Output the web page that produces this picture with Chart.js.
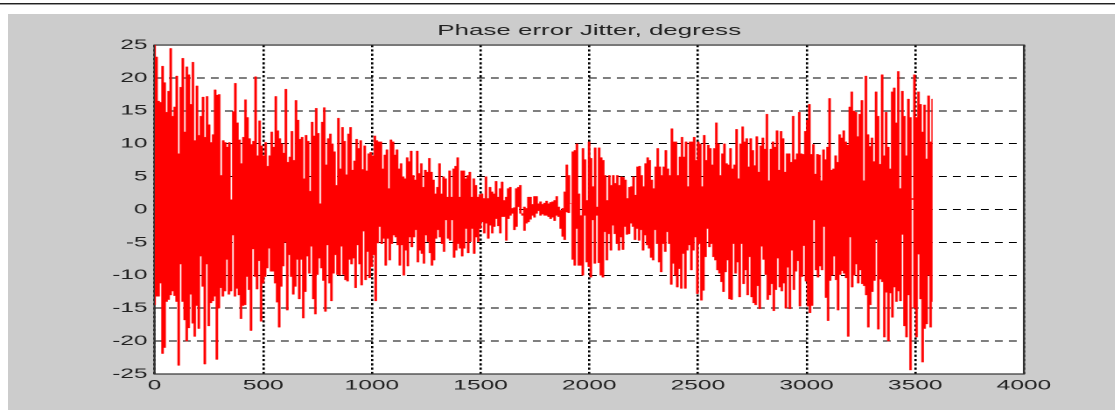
<!DOCTYPE html>
<html>
<head>
<meta charset="utf-8">
<title>Phase error Jitter</title>
<script src="https://cdn.jsdelivr.net/npm/chart.js@4"></script>
<style>
    html, body { margin: 0; padding: 0; background: #fff; overflow: hidden; }
    #rule { position: absolute; left: 0; top: 3px; width: 1115px; height: 1px; background: #222; border-bottom: 1px solid #999; }
    #panel { position: absolute; left: 8px; top: 14px; width: 1107px; height: 396px; background: #cccccc; }
    /* the original figure is a stretched screenshot, so the chart is stretched the same way */
    #wrap { position: absolute; left: 0; top: 0; width: 637px; height: 410px; transform: scaleX(1.75); transform-origin: 0 0; }
</style>
</head>
<body>
<div id="rule"></div>
<div id="panel"></div>
<div id="wrap"><canvas id="jitter" width="637" height="410"></canvas></div>
<script>
const titleText = 'Phase error Jitter, degress';
const lastSample = 3580;
const xTicks = [0, 500, 1000, 1500, 2000, 2500, 3000, 3500, 4000];
const yTicks = [25, 20, 15, 10, 5, 0, -5, -10, -15, -20, -25];

// upper ends of the spikes from left to right
const peaks = [
    25, 23.2, 16.5, 16.3, 21.8, 19.3, 14.8, 18, 24.5, 14.2, 15.6, 20.3, 8.5, 18.6, 23, 11.8, 21.7, 20.5, 16, 22.4,
    10.5, 18.8, 11.3, 14.2, 17.1, 11, 17.2, 12.9, 10.2, 11.4, 18.2, 17.4, 17.5, 5.2, 10.5, 10.2, 9.5, 10.2, 1.5, 14.9,
    19.2, 13.2, 10.6, 7, 11, 16.7, 14, 10.8, 9.9, 10.4, 20.2, 8.2, 13.5, 9.7, 8.2, 10.2, 6.6, 8.2, 11.8, 9.5,
    17.2, 12, 10.8, 10, 8.6, 18.3, 7.2, 8, 11.9, 7.5, 16.6, 13.6, 10.7, 11, 4.7, 11.3, 10.4, 2.8, 13.3, 11.2,
    15.4, 11.6, 0.9, 13.3, 15.5, 6.8, 10.8, 11.5, 10, 8.8, 3.7, 13.9, 6.2, 12.5, 10.4, 5.3, 11.5, 12.5, 6, 7.4,
    10.7, 9.3, 10.5, 6.1, 9.7, 5.9, 8.5, 8.7, 8.2, 11.2, 10.5,
    10.3, 10.3, 6.2, 8.3, 9.1, 3.2, 10.6, 10.3, 8.3, 9.1, 6.2, 7, 5, 4.7, 7.9, 7.3, 8.9, 5.2, 4.5, 8.9,
    5.5, 7, 3.4, 6, 5.7, 7.8, 5.7, 4.5, 2.4, 3.4, 7, 2.4, 5, 4.7, 1.9, 5.9, 1.9, 6.2, 6.6, 7.9,
    1.9, 5.9, 5.9, 4.7, 5.2, 5.7, 1.9, 4.7, 3.7, 1.9, 2.3, 2.4, 1.7, 5, 1.7, 3.4, 2.7, 2.4, 4.3, 1.9,
    3.2, 4.2, 1.4, 1.9, 3.2, 3.4, 0.2, 0.3, 3.2, 3.4, 3.7, -0.6, 0.4, 0.2, 1.9, 1.9, 0.8, 2, 2, 0.9,
    1.2, 0.8, 1, 1.3, 0.9, 1.1, 1.2, 1.4, 2, 0.4, -0.1, 0.2, 2.7, 6.8, 5.2, 0.9, 8.8, 9, 10, 2.4,
    -0.9, 9.3, 7.6, 1.4, 10.3, 7.8, 3.5, 9.4, 0.4, 9.4, 7.9, 7.5, 5.2, 1.4, 5.2, 3.7, 5.2, 4, 5.2, 3.7,
    5, 4.9, 4.5, 1.7, 3.4, 3.5, 5, 2.2, 6.5, 6.6, 5.2, 3.5, 7, 7.9, 7.5, 4.5, 3.2, 6.5, 9.3, 6.5,
    5.2, 6.5, 9, 6.2, 5.2, 12.3, 10.3, 10.3, 5.2, 8, 11, 8, 10.3, 3.5, 10.3, 10.3, 11, 7.5, 10.3, 10,
    3.5, 11.3, 7.5, 9.8, 9.3, 6.8, 9.3, 13.2, 10, 5.2, 8.5, 10, 7, 6.8, 9.3, 6.2, 6.8, 12.2, 4.7, 10,
    12.6, 10.3, 10.8, 6.5, 10.8,
    9, 6.7, 11.1, 5.7, 9.7, 10.9, 9.2, 14.5, 4.4, 9.2, 10.3, 9.5, 12, 6, 11.9, 10.8, 5.7, 8.5, 8.5, 7.2,
    14.2, 7.6, 8.5, 14.8, 8.5, 8.4, 11.9, 13.6, 16, 8.4, 9.9, 5.4, 8.4, 8.3, 4.4, 9.1, 7.6, 9.5, 16.9, 6,
    6.2, 8.2, 7.2, 11.4, 10.9, 12, 10.3, 9.8, 15.6, 17.9, 15, 14.8, 11.1, 14.5, 16.6, 4.4, 20.3, 11.4, 9.6, 10.9,
    7.3, 17.9, 14.2, 6.9, 20.5, 8.2, 14.8, 9.5, 6.2, 17.9, 18.5, 13.2, 21, 3.2, 18, 14.2, 8.2, 16.8, 14, 1.7,
    20.5, 14, 17.9, 16, 11.8, 15.9, 7.7, 17.3, 10.3, 16.8
];

// lower ends of the spikes, same direction
const troughs = [
    -14.5, -13.2, -13.2, -11.2, -21.9, -21, -14, -13.7, -13, -12.4, -13.1, -14, -23.7, -8.3, -14, -16.8, -20, -18, -12.9, -17.3,
    -19.3, -14.6, -18.1, -7.1, -11.7, -23.5, -8.3, -17.7, -14.2, -13.9, -13.2, -22.8, -15, -11.9, -13.2, -12.4, -7.6, -12.9, -12.4, -3.9,
    -13.2, -12, -13, -16.6, -14.6, -14.5, -10.2, -12.2, -18.4, -6, -10.2, -12.1, -7.8, -17, -11.2, -10.2, -8.9, -5.9, -9.4, -9.4,
    -11.2, -14.1, -17.9, -11.7, -8.6, -5, -15.3, -6.9, -10.2, -12.9, -11.7, -7.6, -13.6, -7.6, -16.5, -12.5, -7.1, -9.7, -5.6, -13.6,
    -15.9, -9.9, -7.4, -8.9, -10.8, -15.5, -5.4, -11.2, -13.9, -9.7, -6.9, -9.9, -10, -5.6, -9.9, -10.7, -10.9, -7.6, -8.3, -7.4,
    -11.9, -5.4, -8.3, -11.5, -3.3, -10.7, -6.4, -10.4, -8.7, -6.9, -13.9, -5.1, -2.6,
    -5.2, -4.4, -8.5, -4.4, -7.7, -5.2, -3.9, -4.2, -5.4, -8.5, -5.4, -10, -6.2, -8.6, -4.2, -5.7, -4.2, -3.1, -8, -6.2,
    -6.7, -8.2, -3.9, -4.9, -6.6, -8.5, -7.7, -4.4, -3.1, -4.2, -5.2, -6.4, -1.6, -4.4, -4.7, -1.6, -7.3, -6.2, -5.2, -5.9,
    -7.1, -5.9, -2.9, -6.6, -4.9, -2.9, -6.7, -4.2, -4.9, -2.9, -1.9, -3.6, -2.1, -4.4, -2.4, -3.6, -2.6, -1.4, -2.5, -3.6,
    -1.1, -1.1, -4.7, -1.4, -0.9, -0.6, -3.1, -2.6, 0.4, -0.6, -0.9, -3.2, -2.1, -1.9, -1.5, -0.9, -1.2, -0.6, -0.2, -0.9,
    -0.7, -0.9, -0.9, -1.1, -1.4, -1.2, -1.7, -0.9, -1.1, -2.9, -4.1, -4.6, -0.4, -0.5, 0.9, -7.6, -8.5, -2.9, -8.5, -8.5,
    -10, -0.9, -8, -8.7, -10.3, -1.6, -8.2, -0.9, -8.1, -10, -10.3, -3.4, -7.7, -3.7, -6.2, -2.4, -3.7, -5.2, -6.2, -4.2,
    -6.1, -2.6, -3.8, -3.7, -2.1, -2.6, -4.6, -2.9, -4.7, -3.1, -6.2, -3.9, -5.4, -5.9, -7.3, -7.7, -3.1, -5.2, -8, -9.5,
    -5.2, -6.4, -3.4, -5.2, -11.4, -8.2, -10, -11.8, -9, -12, -6.7, -12, -6.2, -5.4, -9.2, -6.2, -4.2, -12.8, -5.2, -13.8,
    -12.3, -7.2, -2.9, -5.7, -5.2, -7.2, -7.7, -9.2, -9.7, -11, -12.5, -9.5, -7.7, -13.6, -13.7, -5.2, -9.7, -8, -13.3, -5.2,
    -11.3, -9.2, -13, -7.2, -13.3,
    -14.2, -14.5, -11.6, -15.1, -5.6, -7.6, -9.9, -13.7, -13, -11.3, -15.4, -12.2, -7.4, -11.8, -12.4, -11.2, -15, -8.8, -15.1, -6.2,
    -12.2, -9.4, -7.8, -14.7, -10.2, -5.5, -10.9, -14.7, -15.7, -14.6, -1.6, -9.2, -10.3, -8.6, -9.2, -2.6, -13.4, -16.9, -10.8, -10,
    -7.1, -10.7, -15.3, -9.9, -9.3, -9.7, -10.4, -19.3, -4.2, -11.8, -10, -8.3, -11.2, -9.2, -11.3, -11.6, -13, -17.9, -14.5, -12.5,
    -10.8, -4.6, -18.2, -10.6, -11, -19.4, -12.6, -20, -12.7, -16.4, -11.8, -14, -12.4, -13.9, -3.8, -17.7, -19.4, -13, -24.4, 1.5,
    -15, -19.4, -6.8, -13.6, -23.2, -18.1, -17.4, -10, -17.9, -14
];

// both envelopes are spread over the same sample range
const peakPoints = peaks.map((y, i) => ({ x: i * lastSample / (peaks.length - 1), y: y }));
const troughPoints = troughs.map((y, i) => ({ x: i * lastSample / (troughs.length - 1), y: y }));

const plotFrame = {
    id: 'plotFrame',
    beforeDraw(chart) {
        const a = chart.chartArea;
        chart.ctx.save();
        chart.ctx.fillStyle = '#ffffff';
        chart.ctx.fillRect(a.left, a.top, a.width, a.height);
        chart.ctx.restore();
    },
    beforeDatasetsDraw(chart) {
        const a = chart.chartArea;
        chart.ctx.save();
        chart.ctx.strokeStyle = '#333333';
        chart.ctx.lineWidth = 1.2;
        chart.ctx.strokeRect(a.left, a.top, a.width, a.height);
        chart.ctx.restore();
    }
};

const config = {
    type: 'line',
    data: {
        datasets: [
            {
                data: peakPoints,
                borderColor: '#ff0000',
                backgroundColor: '#ff0000',
                borderWidth: 0.3,
                pointRadius: 0,
                stepped: 'middle',
                clip: 3,
                fill: '+1'
            },
            {
                data: troughPoints,
                borderColor: '#ff0000',
                borderWidth: 0.3,
                pointRadius: 0,
                stepped: 'middle',
                clip: 3,
                fill: false
            }
        ]
    },
    options: {
        responsive: false,
        animation: false,
        devicePixelRatio: 2,
        parsing: false,
        normalized: true,
        layout: { padding: { top: 0, right: 51.9, bottom: 0, left: 0 } },
        plugins: {
            legend: { display: false },
            tooltip: { enabled: false },
            title: {
                display: true,
                text: titleText,
                fullSize: false,
                color: '#222222',
                font: { family: 'Liberation Sans', size: 14.8, weight: 'normal' },
                padding: { top: 22, bottom: 5.3 }
            }
        },
        scales: {
            x: {
                type: 'linear',
                min: 0,
                max: 4000,
                afterBuildTicks: (axis) => { axis.ticks = xTicks.map((v) => ({ value: v })); },
                afterFit: (axis) => { axis.height = 36; },
                border: { display: false, dash: [2.2, 2.1] },
                grid: { color: '#000000', lineWidth: 1.3, drawTicks: false },
                ticks: {
                    color: '#222222',
                    padding: 3,
                    maxRotation: 0,
                    autoSkip: false,
                    callback: (v) => String(v),
                    font: { family: 'Liberation Sans', size: 14 }
                }
            },
            y: {
                type: 'linear',
                min: -25,
                max: 25,
                afterBuildTicks: (axis) => { axis.ticks = yTicks.map((v) => ({ value: v })); },
                afterFit: (axis) => { axis.width = 88.3; },
                border: { display: false, dash: [4.5, 3.5] },
                grid: { color: '#000000', lineWidth: 1, drawTicks: false },
                ticks: {
                    color: '#222222',
                    padding: 4,
                    autoSkip: false,
                    callback: (v) => String(v),
                    font: { family: 'Liberation Sans', size: 14 }
                }
            }
        }
    },
    plugins: [plotFrame]
};

new Chart('jitter', config);
</script>
</body>
</html>
